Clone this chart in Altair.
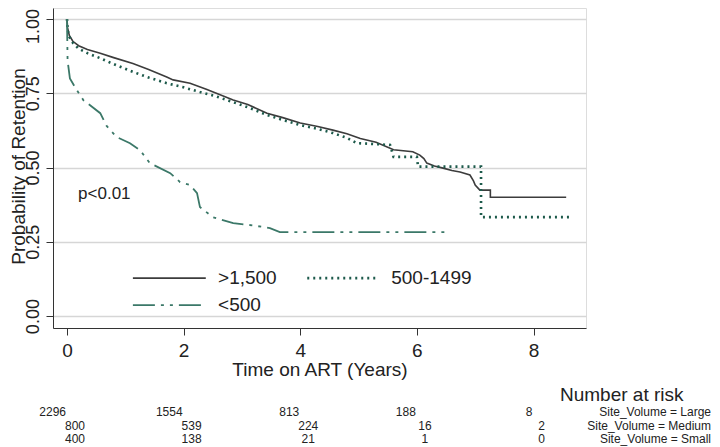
import altair as alt
import pandas as pd

# ---- data ----
large_t = [0, 0.01, 0.04, 0.1, 0.2, 0.35, 0.57, 0.8, 1.13, 1.4, 1.71, 1.82, 2.11, 2.4, 2.85, 3.1, 3.43, 3.7,
           4.0, 4.3, 4.56, 4.8, 5.03, 5.3, 5.6, 5.93, 6.05, 6.12, 6.17, 6.3, 6.45, 6.6, 6.74, 6.91, 6.97, 7.0,
           7.08, 7.26, 7.26, 8.56]
large_s = [1.0, 0.97, 0.945, 0.925, 0.91, 0.897, 0.885, 0.87, 0.85, 0.83, 0.805, 0.795, 0.784, 0.763, 0.727,
           0.712, 0.683, 0.668, 0.65, 0.638, 0.626, 0.614, 0.598, 0.585, 0.56, 0.553, 0.542, 0.53, 0.515, 0.505,
           0.498, 0.49, 0.485, 0.475, 0.455, 0.441, 0.424, 0.424, 0.40, 0.40]

medium_t = [0, 0.01, 0.04, 0.1, 0.2, 0.35, 0.57, 0.8, 1.13, 1.4, 1.71, 2.0, 2.28, 2.55, 2.85, 3.1, 3.43, 3.7,
            4.0, 4.3, 4.56, 4.8, 4.97, 5.2, 5.54, 5.6, 6.0, 6.02, 7.1, 7.1, 8.64]
medium_s = [1.0, 0.965, 0.94, 0.92, 0.9, 0.885, 0.868, 0.848, 0.822, 0.803, 0.784, 0.77, 0.754, 0.74, 0.72,
            0.703, 0.677, 0.66, 0.643, 0.63, 0.616, 0.6, 0.582, 0.58, 0.576, 0.536, 0.536, 0.503, 0.503, 0.333,
            0.333]

small_t = [0, 0.01, 0.05, 0.17, 0.28, 0.57, 0.68, 0.85, 1.08, 1.25, 1.42, 1.77, 1.94, 2.11, 2.23, 2.28, 2.5,
           2.85, 3.2, 3.48, 3.65, 6.54]
small_s = [1.0, 0.86, 0.80, 0.76, 0.727, 0.683, 0.64, 0.603, 0.582, 0.559, 0.515, 0.481, 0.451, 0.441, 0.414,
           0.367, 0.333, 0.313, 0.305, 0.296, 0.283, 0.283]

legend_labels = [">1,500", "500-1499", "<500"]
risk_times = [0, 2, 4, 6, 8]
risk_large = [2296, 1554, 813, 188, 8]
risk_medium = [800, 539, 224, 16, 2]
risk_small = [400, 138, 21, 1, 0]
risk_names = ["Site_Volume = Large", "Site_Volume = Medium", "Site_Volume = Small"]

FONT = "Liberation Sans"
C_LARGE = "#3c3c3c"
C_MED = "#1d5a4b"
C_SMALL = "#3b7868"

xs = alt.Scale(domain=[-0.24, 8.9], nice=False, zero=False)
ys = alt.Scale(domain=[-0.04, 1.037], nice=False, zero=False)

W, H = 533, 320


def curve(t, s, color, dash, width):
    df = pd.DataFrame({"t": t, "s": s, "o": list(range(len(t)))})
    props = dict(interpolate="linear", color=color, strokeWidth=width)
    if dash:
        props["strokeDash"] = dash
    return alt.Chart(df).mark_line(**props).encode(
        x=alt.X("t:Q", scale=xs,
                axis=alt.Axis(values=[0, 2, 4, 6, 8], format="d", grid=False, title="Time on ART (Years)",
                              labelFontSize=19, titleFontSize=19, labelFont=FONT, titleFont=FONT,
                              labelColor="#222", titleColor="#222", titleFontWeight="normal",
                              domainColor="#333", tickColor="#333", tickSize=7, labelPadding=6,
                              titlePadding=0)),
        y=alt.Y("s:Q", scale=ys,
                axis=alt.Axis(values=[0, 0.25, 0.5, 0.75, 1.0], format=".2f", grid=True,
                              gridColor="#d6d6d6", gridWidth=1.5, title="Probability of Retention",
                              labelFontSize=18, titleFontSize=19, labelFont=FONT, titleFont=FONT,
                              labelColor="#222", titleColor="#222", titleFontWeight="normal",
                              labelAngle=270, labelAlign="center", labelBaseline="middle",
                              labelPadding=13, tickSize=7, domainColor="#333", tickColor="#333",
                              labelOffset={"expr": "datum.value == 1 ? 7 : 0"},
                              titleAngle=270, titleX=-35, titleY=158, titleAlign="center",
                              titleBaseline="middle")),
        order="o:Q",
    )


large = curve(large_t, large_s, C_LARGE, None, 1.6)
medium = curve(medium_t, medium_s, C_MED, [2, 4], 2.6)
small = curve(small_t, small_s, C_SMALL, [22, 6, 3, 6, 3, 6], 1.8)

# legend inside the plot, drawn in data coordinates
leg_lines = pd.DataFrame({
    "x1": [1.13, 4.12, 1.13],
    "x2": [2.38, 5.32, 2.38],
    "y": [0.128, 0.128, 0.037],
    "lab": legend_labels,
    "lx": [2.59, 5.56, 2.59],
})
leg_solid = alt.Chart(leg_lines.iloc[[0]]).mark_rule(color=C_LARGE, strokeWidth=1.6).encode(
    x=alt.X("x1:Q", scale=xs), x2="x2:Q", y=alt.Y("y:Q", scale=ys))
leg_dot = alt.Chart(leg_lines.iloc[[1]]).mark_rule(color=C_MED, strokeWidth=2.6, strokeDash=[2, 4]).encode(
    x=alt.X("x1:Q", scale=xs), x2="x2:Q", y=alt.Y("y:Q", scale=ys))
leg_dd = alt.Chart(leg_lines.iloc[[2]]).mark_rule(color=C_SMALL, strokeWidth=1.8,
                                                  strokeDash=[22, 6, 3, 6, 3, 6]).encode(
    x=alt.X("x1:Q", scale=xs), x2="x2:Q", y=alt.Y("y:Q", scale=ys))
leg_text = alt.Chart(leg_lines).mark_text(align="left", baseline="middle", font=FONT, fontSize=19,
                                           color="#222").encode(
    x=alt.X("lx:Q", scale=xs), y=alt.Y("y:Q", scale=ys), text="lab:N")

pval = alt.Chart(pd.DataFrame({"x": [0.19], "y": [0.41], "txt": ["p<0.01"]})).mark_text(
    align="left", baseline="middle", font=FONT, fontSize=17, color="#222").encode(
    x=alt.X("x:Q", scale=xs), y=alt.Y("y:Q", scale=ys), text="txt:N")

# number at risk table below the axis
risk_rows = []
for i, vals in enumerate([risk_large, risk_medium, risk_small]):
    for t, v in zip(risk_times, vals):
        risk_rows.append({"t": t, "n": str(v), "row": i})
risk_df = pd.DataFrame(risk_rows)
row_y = [404, 418, 431]

risk_layers = []
for i in range(3):
    sub = risk_df[risk_df.row == i]
    if i == 0:
        mk = alt.Chart(sub).mark_text(align="right", baseline="middle", font=FONT, fontSize=12,
                                      color="#222", dx=-1)
    else:
        mk = alt.Chart(sub).mark_text(align="center", baseline="middle", font=FONT, fontSize=12,
                                      color="#222", dx=8)
    risk_layers.append(mk.encode(x=alt.X("t:Q", scale=xs), y=alt.value(row_y[i]), text="n:N"))

names_df = pd.DataFrame({"name": risk_names, "yy": row_y})
names = alt.Chart(names_df).mark_text(align="right", baseline="middle", font=FONT, fontSize=12,
                                      color="#222").encode(
    x=alt.value(703 - 45), y=alt.Y("yy:Q", scale=None), text="name:N")
nar = alt.Chart(pd.DataFrame({"txt": ["Number at risk"]})).mark_text(
    align="left", baseline="middle", font=FONT, fontSize=19, color="#222").encode(
    x=alt.value(560 - 53), y=alt.value(387), text="txt:N")

chart = alt.layer(large, medium, small, leg_solid, leg_dot, leg_dd, leg_text, pval, nar, names,
                  *risk_layers).properties(
    width=W, height=H,
    autosize=alt.AutoSizeParams(type="none"),
    padding={"left": 45, "top": 0, "right": 126, "bottom": 119},
).configure_view(stroke=None).configure(background="white")

chart.save("out.html", embed_options={"renderer": "svg", "actions": False})
